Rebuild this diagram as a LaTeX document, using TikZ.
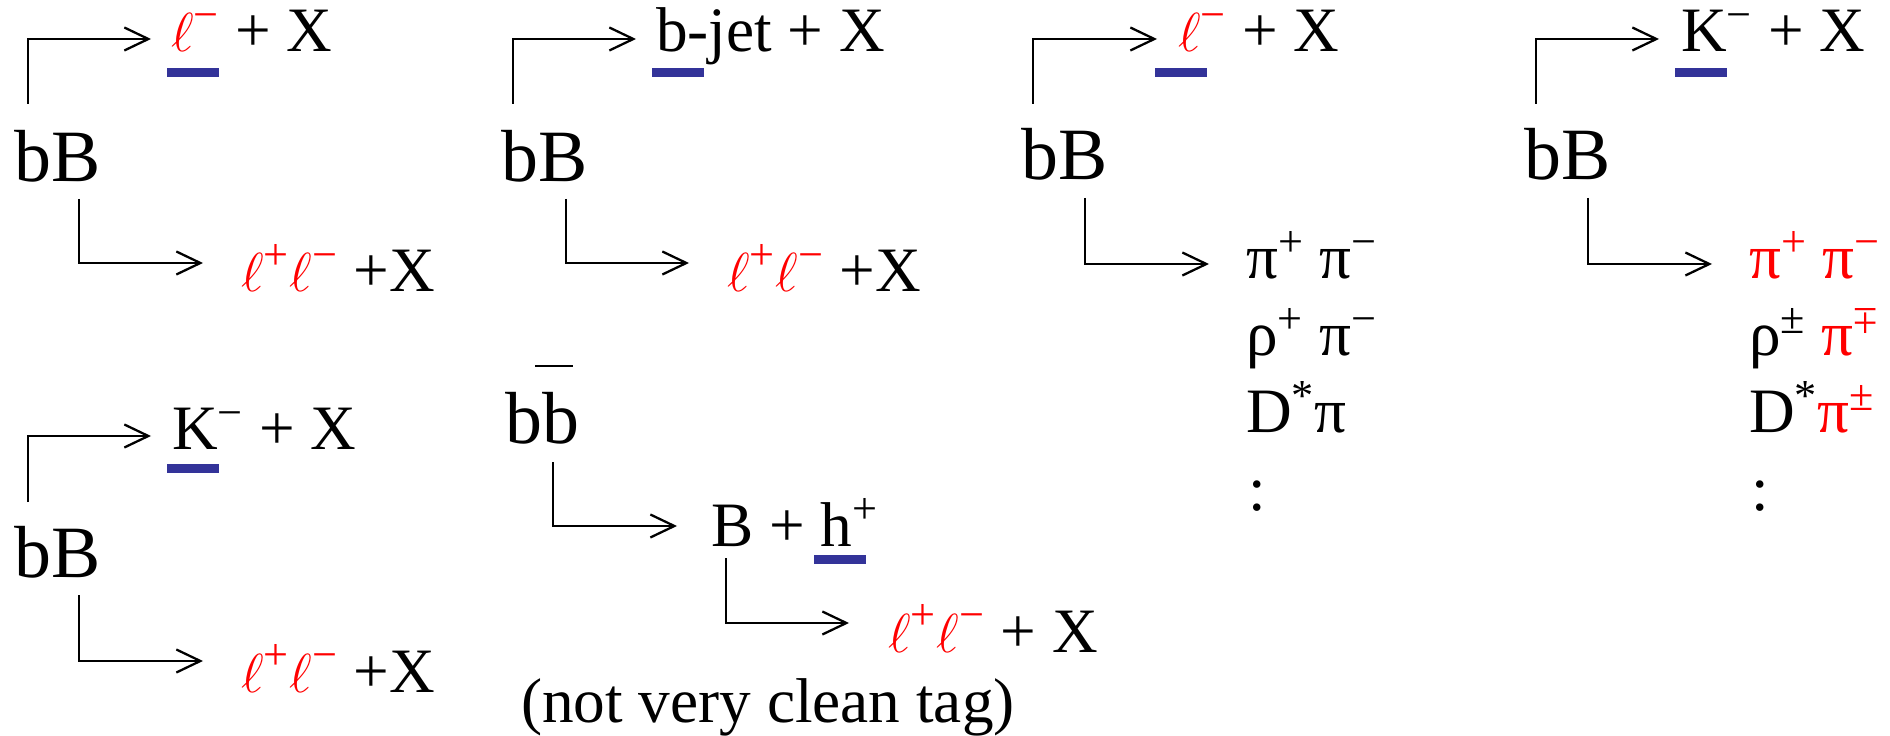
\RequirePackage{fix-cm}
\documentclass[tikz,border=0pt]{standalone}
\usepackage{fontspec}
\setmainfont{Liberation Serif}
\usepackage{graphicx}
\usetikzlibrary{arrows.meta}
\definecolor{tagblue}{RGB}{51,51,153}
\newcommand{\lep}{\scalebox{0.87}{$\ell$}}
\newcommand{\mpsign}{\raisebox{\depth}{\scalebox{1}[-1]{±}}}

\begin{document}
\begin{tikzpicture}[x=0.02cm,y=-0.02cm,line width=1.3pt,
        >={Straight Barb[length=4.8mm,width=4.6mm]},
        prod/.style={anchor=base west,inner sep=0pt,font=\fontsize{36}{43}\selectfont},
        pair/.style={prod,font=\fontsize{42}{50}\selectfont}]
    \useasboundingbox (0,0) rectangle (1890,736);
    % lepton tag
    \node[pair] (bBa) at (13,182) {bB};
    \node[prod] (lepA) at (170,52) {{\color{red}\lep\textsuperscript{−}} + X};
    \node[prod] (llA) at (240,292) {{\color{red}\lep\textsuperscript{+}\lep\textsuperscript{−}} +X};
    \fill[tagblue] (167,68) rectangle (219,77);
    \draw [->] ([shift={(15,-78)}]bBa.base west) |- ([shift={(-19,-13)}]lepA.base west);
    \draw [->] ([shift={(66,17)}]bBa.base west) |- ([shift={(-37,-29)}]llA.base west);
    % jet tag
    \node[pair] (bBb) at (500,182) {bB};
    \node[prod] (jetB) at (655,52) {b-jet + X};
    \node[prod] (llB) at (726,292) {{\color{red}\lep\textsuperscript{+}\lep\textsuperscript{−}} +X};
    \fill[tagblue] (652,68) rectangle (704,77);
    \draw [->] ([shift={(13,-78)}]bBb.base west) |- ([shift={(-19,-13)}]jetB.base west);
    \draw [->] ([shift={(66,17)}]bBb.base west) |- ([shift={(-37,-29)}]llB.base west);
    % kaon tag
    \node[pair] (bBe) at (13,577) {bB};
    \node[prod] (kaonE) at (171,450) {K\textsuperscript{−} + X};
    \node[prod] (llE) at (240,692) {{\color{red}\lep\textsuperscript{+}\lep\textsuperscript{−}} +X};
    \fill[tagblue] (167,464) rectangle (219,473);
    \draw [->] ([shift={(15,-75)}]bBe.base west) |- ([shift={(-20,-14)}]kaonE.base west);
    \draw [->] ([shift={(66,18)}]bBe.base west) |- ([shift={(-37,-31)}]llE.base west);
    % same side tag
    \node[pair] (bbF) at (504,443) {bb};
    \draw ([shift={(31,-77)}]bbF.base west) -- +(38,0);
    \node[prod] (BhF) at (710,546) {B + h\textsuperscript{+}};
    \node[prod] (llF) at (887,652) {{\color{red}\lep\textsuperscript{+}\lep\textsuperscript{−}} + X};
    \node[prod] (noteF) at (520,722) {(not very clean tag)};
    \fill[tagblue] (814,555) rectangle (866,564);
    \draw [->] ([shift={(49,19)}]bbF.base west) |- ([shift={(-33,-20)}]BhF.base west);
    \draw [->] ([shift={(16,12)}]BhF.base west) |- ([shift={(-38,-29)}]llF.base west);
    % hadronic modes, lepton tag
    \node[pair] (bBc) at (1020,180) {bB};
    \node[prod] (lepC) at (1177,52) {{\color{red}\lep\textsuperscript{−}} + X};
    \fill[tagblue] (1155,68) rectangle (1207,77);
    \node[prod] (modeC1) at (1245,279) {π\textsuperscript{+} π\textsuperscript{−}};
    \node[prod] (modeC2) at (1245,356) {ρ\textsuperscript{+} π\textsuperscript{−}};
    \node[prod] (modeC3) at (1245,433) {D\textsuperscript{*}π};
    \node[prod] (modeC4) at (1247,510) {:};
    \draw [->] ([shift={(13,-76)}]bBc.base west) |- ([shift={(-20,-13)}]lepC.base west);
    \draw [->] ([shift={(65,18)}]bBc.base west) |- ([shift={(-36,-15)}]modeC1.base west);
    % hadronic modes, kaon tag
    \node[pair] (bBd) at (1523,180) {bB};
    \node[prod] (kaonD) at (1680,52) {K\textsuperscript{−} + X};
    \fill[tagblue] (1675,68) rectangle (1727,77);
    \node[prod] (modeD1) at (1748,279) {\color{red}π\textsuperscript{+} π\textsuperscript{−}};
    \node[prod] (modeD2) at (1748,356) {ρ\textsuperscript{±} {\color{red}π\textsuperscript{\mpsign}}};
    \node[prod] (modeD3) at (1748,433) {D\textsuperscript{*}{\color{red}π\textsuperscript{±}}};
    \node[prod] (modeD4) at (1750,510) {:};
    \draw [->] ([shift={(13,-76)}]bBd.base west) |- ([shift={(-21,-13)}]kaonD.base west);
    \draw [->] ([shift={(65,18)}]bBd.base west) |- ([shift={(-36,-15)}]modeD1.base west);
\end{tikzpicture}
\end{document}
